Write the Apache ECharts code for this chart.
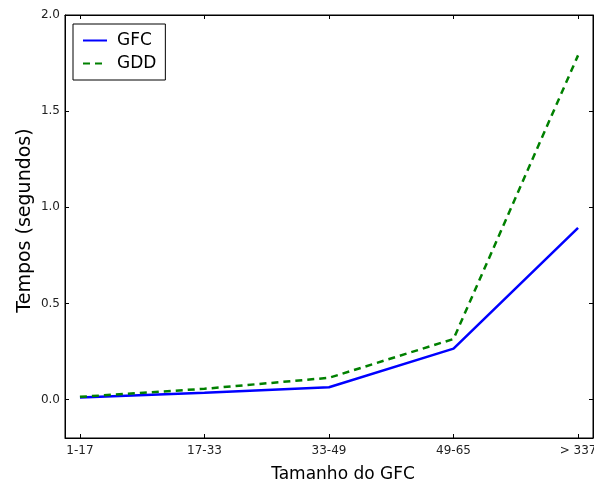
<!DOCTYPE html>
<html><head><meta charset="utf-8">
<script src="https://cdn.jsdelivr.net/npm/echarts@6/dist/echarts.min.js"></script>
<style>html,body{margin:0;padding:0;background:#fff}#c{width:594px;height:483px}</style>
</head><body><div id="c"></div>
<script>
const categories = ['1-17', '17-33', '33-49', '49-65', '> 337'];
const gfc = [0.010, 0.035, 0.064, 0.265, 0.893];
const gdd = [0.014, 0.056, 0.113, 0.315, 1.79];
const yTicks = [0, 0.5, 1.0, 1.5, 2.0];
const xTicks = [0, 1, 2, 3, 4];

const chart = echarts.init(document.getElementById('c'));
const font = 'DejaVu Sans';
const frameAxis = { show: true, onZero: false, lineStyle: { color: '#000', width: 1 } };
chart.setOption({
  animation: false,
  grid: { left: 65, top: 15, right: 1, bottom: 45, containLabel: false, outerBoundsMode: 'none',
          show: true, borderColor: '#000', borderWidth: 1 },
  legend: {
    left: 73, top: 24, orient: 'vertical',
    backgroundColor: '#fff', borderColor: '#000', borderWidth: 1, borderRadius: 0,
    padding: [8, 9, 8, 9], itemGap: 6, itemWidth: 24, itemHeight: 14,
    itemStyle: { opacity: 0 },
    textStyle: { fontFamily: font, fontSize: 17, color: '#000', padding: [0, 0, 0, 5] },
    data: ['GFC', 'GDD']
  },
  xAxis: [{
    type: 'value', min: -0.12, max: 4.12,
    name: 'Tamanho do GFC', nameLocation: 'middle', nameGap: 28,
    nameTextStyle: { fontFamily: font, fontSize: 17, fontWeight: 500, color: '#000', padding: [0, 0, 0, 28] },
    axisLine: frameAxis,
    axisTick: { show: true, inside: true, length: 4, customValues: xTicks, lineStyle: { color: '#000' } },
    axisLabel: { customValues: xTicks, formatter: v => categories[Math.round(v)], fontFamily: font, fontSize: 12, color: '#222', margin: 7 },
    splitLine: { show: false }
  }, {
    type: 'value', min: -0.12, max: 4.12, position: 'top',
    axisLine: frameAxis,
    axisTick: { show: true, inside: true, length: 4, customValues: xTicks, lineStyle: { color: '#000' } },
    axisLabel: { show: false }, splitLine: { show: false }
  }],
  yAxis: [{
    type: 'value', min: -0.2, max: 2.0,
    name: 'Tempos (segundos)', nameLocation: 'middle', nameGap: 30, nameMoveOverlap: false,
    nameTextStyle: { fontFamily: font, fontSize: 19, color: '#000', padding: [0, 0, 0, 12] },
    axisLine: frameAxis,
    axisTick: { show: true, inside: true, length: 4, customValues: yTicks, lineStyle: { color: '#000' } },
    axisLabel: { customValues: yTicks, formatter: v => v.toFixed(1), fontFamily: font, fontSize: 12, color: '#222', margin: 5 },
    splitLine: { show: false }
  }, {
    type: 'value', min: -0.2, max: 2.0, position: 'right',
    axisLine: frameAxis,
    axisTick: { show: true, inside: true, length: 4, customValues: yTicks, lineStyle: { color: '#000' } },
    axisLabel: { show: false }, splitLine: { show: false }
  }],
  series: [{
    name: 'GFC', type: 'line', symbol: 'none',
    data: gfc.map((v, i) => [i, v]),
    lineStyle: { color: '#0000ff', width: 2.5 }, itemStyle: { color: '#0000ff' }
  }, {
    name: 'GDD', type: 'line', symbol: 'none',
    data: gdd.map((v, i) => [i, v]),
    lineStyle: { color: '#008000', width: 2.5, type: [7, 5] }, itemStyle: { color: '#008000' }
  }]
});
</script></body></html>
